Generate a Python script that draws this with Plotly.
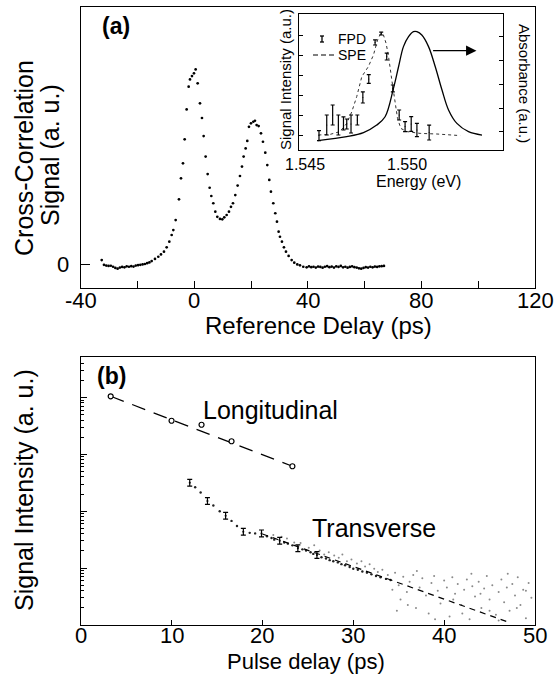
import plotly.graph_objects as go

# ---------------- Panel (a): cross-correlation ----------------
delay_ps = [-32.6,-31.8,-31.0,-30.2,-29.4,-28.6,-27.8,-27.0,-26.2,-25.4,-24.6,-23.8,-23.0,-22.2,-21.4,-20.6,-19.8,-19.0,-18.2,-17.4,-16.6,-15.8,
            -15.0,-13.84,-12.67,-11.73,-10.67,-9.73,-8.79,-7.97,-7.38,-6.56,-5.39,-4.68,-3.98,-3.39,-2.69,-1.98,-1.51,-0.81,-0.11,0.48,
            1.19,2.01,2.71,3.30,4.0,4.71,5.41,6.0,6.70,7.41,8.11,9.05,9.87,10.57,11.4,12.22,12.92,13.63,14.45,15.27,16.09,16.8,17.38,18.09,
            18.67,19.26,19.96,20.79,21.37,21.96,22.67,23.49,24.19,25.01,25.72,26.42,27.0,27.83,28.53,29.12,29.71,30.18,30.88,31.58,32.29,
            33.23,34.29,35.22,36.28,37.22,38.39,39.57,
            40.4,41.2,42.0,42.8,43.6,44.4,45.2,46.0,46.8,47.6,48.4,49.2,50.0,50.8,51.6,52.4,53.2,54.0,54.8,55.6,56.4,57.2,58.0,58.8,59.6,
            60.4,61.2,62.0,62.8,63.6,64.4,65.2,66.0,66.8]
xcorr_signal = [0.020,-0.004,-0.008,-0.010,-0.009,-0.014,-0.020,-0.024,-0.018,-0.015,-0.017,-0.012,-0.014,-0.011,-0.013,-0.008,-0.006,-0.004,-0.002,0.000,0.004,0.008,
                0.015,0.026,0.037,0.049,0.063,0.085,0.114,0.148,0.173,0.224,0.33,0.437,0.514,0.636,0.789,0.905,0.942,0.959,0.973,0.993,
                0.922,0.82,0.745,0.653,0.548,0.459,0.389,0.347,0.31,0.267,0.241,0.23,0.228,0.238,0.25,0.267,0.292,0.31,0.352,0.40,0.449,0.497,0.548,0.59,
                0.628,0.70,0.718,0.726,0.731,0.709,0.704,0.667,0.624,0.568,0.505,0.429,0.369,0.31,0.259,0.216,0.165,0.139,0.114,0.085,0.063,
                0.041,0.02,0.007,-0.002,-0.007,-0.014,-0.017,
                -0.012,-0.016,-0.014,-0.018,-0.013,-0.015,-0.019,-0.014,-0.011,-0.016,-0.013,-0.018,-0.012,-0.015,-0.010,-0.017,-0.014,-0.019,-0.015,
                -0.012,-0.016,-0.018,-0.022,-0.024,-0.020,-0.016,-0.018,-0.014,-0.017,-0.013,-0.015,-0.012,-0.011,-0.010]
a_xticks = [-40, 0, 40, 80, 120]
a_xticklabels = ["-40", "0", "40", "80", "120"]

# ---------------- Inset: spectra ----------------
abs_energy = [1.54562,1.54704,1.54786,1.54851,1.54892,1.54933,1.54958,1.54982,1.55007,1.55031,1.55048,1.55072,1.55105,1.55138,
              1.55171,1.55203,1.55244,1.55301,1.55367]
absorbance = [-0.38,-0.21,-0.04,0.28,0.63,1.83,2.74,3.59,4.01,4.22,4.22,4.08,3.59,2.74,1.76,0.92,0.35,0.0,-0.14]

spe_energy = [1.54565,1.54622,1.54671,1.54704,1.54729,1.54753,1.54778,1.54810,1.54835,1.54855,1.54871,1.54884,1.54897,1.54909,
              1.54925,1.54941,1.54953,1.54969,1.54999,1.55064,1.55146,1.55260]
spe_signal = [0.0,0.03,0.17,0.58,1.17,1.92,2.92,3.42,4.0,4.75,5.08,5.0,4.58,3.92,2.75,1.58,0.83,0.33,0.17,0.08,0.05,-0.03]

fpd_energy = [1.54568,1.54606,1.54635,1.54663,1.54688,1.54704,1.54725,1.54756,1.54783,1.54812,1.54843,1.54873,1.54900,1.54930,
              1.54961,1.54990,1.55020,1.55048,1.55108]
fpd_signal = [-0.03,0.5,1.0,0.5,0.58,0.55,0.55,0.75,1.88,2.8,4.63,5.07,3.92,2.33,1.0,0.42,0.55,0.25,0.12]
fpd_error = [0.25,0.5,0.5,0.5,0.33,0.25,0.45,0.25,0.28,0.22,0.13,0.07,0.17,0.17,0.25,0.25,0.37,0.33,0.37]
inset_xticks = [1.545, 1.550, 1.555]
inset_xticklabels = ["1.545", "1.550", "1.555"]

# ---------------- Panel (b): decay ----------------
long_delay = [3.3, 10.0, 13.3, 16.6, 23.3]
long_log = [4.02, 3.59, 3.52, 3.23, 2.79]
long_fit_delay = [3.3, 23.3]
long_fit_log = [4.02, 2.79]

trans_delay = [12.0, 13.95, 15.95, 17.9, 19.9, 21.9, 23.9, 26.0]
trans_log = [2.50, 2.18, 1.92, 1.64, 1.61, 1.48, 1.35, 1.23]
trans_err_log = 0.06

scan_delay = [12.6,13.2,14.6,15.3,16.6,17.2,18.6,19.2,20.5,21.0,21.3,22.4,22.8,23.3,24.4,24.8,25.3,25.6,26.5,27.0,27.4,27.8,
              28.3,28.7,29.1,29.6,30.0,30.5,31.0,31.5,32.0,32.5,33.0,33.6,34.1]
scan_log = [2.42,2.33,2.10,2.00,1.83,1.74,1.62,1.61,1.56,1.53,1.50,1.45,1.43,1.40,1.33,1.31,1.28,1.25,1.19,1.17,1.14,1.12,
            1.10,1.07,1.05,1.02,0.99,0.97,0.94,0.92,0.89,0.86,0.84,0.81,0.79]

noise_delay = [21.2,22.1,22.7,23.5,24.2,25.1,25.7,26.3,26.8,27.3,27.9,28.4,28.8,29.3,29.8,30.4,30.9,31.3,31.8,32.3,32.7,33.2,33.8,
               34.3,34.6,35.0,35.2,35.5,35.9,36.2,36.6,36.9,37.3,37.6,38.0,38.3,38.6,38.9,39.3,39.6,40.0,40.3,40.6,40.9,41.2,41.5,
               41.9,42.2,42.5,42.8,43.1,43.4,43.8,44.1,44.4,44.7,45.0,45.3,45.7,46.0,46.3,46.6,46.9,47.2,47.5,47.8,48.1,48.4,48.7,
               49.0,49.3,49.6,36.0,37.0,39.0,41.0,43.0,45.0,47.0,49.0,34.8,42.0,44.0,46.0,48.0]
noise_log = [1.58,1.55,1.52,1.45,1.44,1.36,1.40,1.31,1.24,1.28,1.22,1.18,1.24,1.12,1.15,1.08,1.12,1.03,1.07,0.99,0.93,0.97,0.88,
             0.62,0.92,0.70,0.45,0.85,0.58,0.76,0.88,0.30,0.66,0.82,0.52,0.20,0.74,0.86,0.60,0.38,0.78,0.66,0.15,0.84,0.55,0.72,
             0.35,0.62,0.80,0.10,0.68,0.50,0.76,0.30,0.64,0.86,0.45,0.70,0.18,0.58,0.80,0.40,0.66,0.25,0.72,0.52,0.84,0.35,0.62,
             0.12,0.74,0.48,0.35,0.95,0.10,0.45,0.90,0.25,0.90,0.60,0.25,0.20,0.55,0.08,0.30]

trans_fit_delay = [20.0, 46.9]
trans_fit_log = [1.60, 0.06]
b_xticks = [0, 10, 20, 30, 40, 50]
b_xticklabels = ["0", "10", "20", "30", "40", "50"]

# ---------------- helpers ----------------
W, H = 556, 676
def px(x):
    return x / W
def py(y):
    return 1 - y / H
def pw(v):
    return [10 ** t for t in v]

FONT = "Liberation Sans, Arial, Helvetica, sans-serif"
NARROW = "Liberation Sans Narrow, Liberation Sans, Arial, sans-serif"

fig = go.Figure()

# panel a
fig.add_trace(go.Scatter(x=delay_ps, y=xcorr_signal, mode="markers",
                         marker=dict(color="black", size=2.7), xaxis="x", yaxis="y", showlegend=False))

# inset
fig.add_trace(go.Scatter(x=spe_energy, y=spe_signal, mode="lines",
                         line=dict(color="#333", width=1, dash="dot"), xaxis="x3", yaxis="y3", showlegend=False))
fig.add_trace(go.Scatter(x=fpd_energy, y=fpd_signal, mode="markers",
                         marker=dict(color="black", size=1),
                         error_y=dict(type="data", array=fpd_error, color="black", thickness=1.2, width=2),
                         xaxis="x3", yaxis="y3", showlegend=False))
fig.add_trace(go.Scatter(x=abs_energy, y=absorbance, mode="lines", line_shape="spline",
                         line=dict(color="black", width=1.3), xaxis="x3", yaxis="y4", showlegend=False))

# panel b
fig.add_trace(go.Scatter(x=noise_delay, y=pw(noise_log), mode="markers",
                         marker=dict(color="#8a8a8a", size=2), xaxis="x2", yaxis="y2", showlegend=False))
fig.add_trace(go.Scatter(x=scan_delay, y=pw(scan_log), mode="markers",
                         marker=dict(color="#222", size=2.4), xaxis="x2", yaxis="y2", showlegend=False))
fig.add_trace(go.Scatter(x=trans_fit_delay, y=pw(trans_fit_log), mode="lines",
                         line=dict(color="black", width=1.2, dash="6px,5px"), xaxis="x2", yaxis="y2", showlegend=False))
tv = pw(trans_log)
fig.add_trace(go.Scatter(x=trans_delay, y=tv, mode="markers",
                         marker=dict(color="black", size=2),
                         error_y=dict(type="data", symmetric=False,
                                      array=[v * (10 ** trans_err_log - 1) for v in tv],
                                      arrayminus=[v * (1 - 10 ** -trans_err_log) for v in tv],
                                      color="black", thickness=1.2, width=2.5),
                         xaxis="x2", yaxis="y2", showlegend=False))
fig.add_trace(go.Scatter(x=long_fit_delay, y=pw(long_fit_log), mode="lines",
                         line=dict(color="black", width=1.2, dash="14px,9px"), xaxis="x2", yaxis="y2", showlegend=False))
fig.add_trace(go.Scatter(x=long_delay, y=pw(long_log), mode="markers",
                         marker=dict(color="white", size=5, symbol="circle",
                                     line=dict(color="black", width=1.2)),
                         xaxis="x2", yaxis="y2", showlegend=False))

axis_common = dict(showline=True, linecolor="black", linewidth=1.2, showgrid=False, zeroline=False,
                   ticks="inside", tickcolor="black", showticklabels=False, automargin=False)

minor_b = []
for d in range(0, 5):
    for m in range(2, 10):
        v = m * 10 ** d
        if v < 10 ** 4.716:
            minor_b.append(v)

fig.update_layout(
    width=W, height=H, margin=dict(l=0, r=0, t=0, b=0, pad=0, autoexpand=False),
    paper_bgcolor="white", plot_bgcolor="white",
    font=dict(family=FONT, color="black"),
    xaxis=dict(axis_common, domain=[px(80.7), px(535)], anchor="y", range=[-40, 120],
               tickmode="array", tickvals=a_xticks, ticklen=7, mirror=True,
               minor=dict(tickmode="array", tickvals=[-20, 20, 60, 100], ticks="inside", ticklen=7, tickcolor="black")),
    yaxis=dict(axis_common, domain=[py(288.3), py(7.3)], anchor="x", range=[-0.124, 1.31],
               tickmode="array", tickvals=[0], ticklen=9, mirror=True),
    xaxis2=dict(axis_common, domain=[px(80.7), px(535)], anchor="y2", range=[0, 50],
                tickmode="array", tickvals=b_xticks, ticklen=5, mirror=True),
    yaxis2=dict(axis_common, domain=[py(625), py(356.7)], anchor="x2", type="log", range=[0, 4.716],
                tickmode="array", tickvals=[1, 10, 100, 1000, 10000], ticklen=6, mirror=True,
                minor=dict(tickmode="array", tickvals=minor_b, ticks="inside", ticklen=3, tickcolor="black")),
    xaxis3=dict(showline=True, linecolor="black", linewidth=1.2, showgrid=False, zeroline=False, mirror=True,
                domain=[px(299), px(503)], anchor="y3", range=[1.5447, 1.5547],
                tickmode="array", tickvals=inset_xticks, ticks="", showticklabels=False),
    yaxis3=dict(showline=True, linecolor="black", linewidth=1.2, showgrid=False, zeroline=False,
                domain=[py(150), py(14)], anchor="x3", range=[-0.75, 6.05],
                tickmode="array", tickvals=[0, 1, 2, 3, 4, 5], ticks="inside", ticklen=4, tickcolor="black",
                showticklabels=False),
    yaxis4=dict(showline=True, linecolor="black", linewidth=1.2, showgrid=False, zeroline=False,
                overlaying="y3", side="right", anchor="x3", range=[-0.772, 4.966],
                tickmode="array", tickvals=[0, 1, 2, 3, 4], ticks="inside", ticklen=4, tickcolor="black",
                showticklabels=False),
)

ann = []
def text(x, y, s, size=24, angle=0, bold=False, family=FONT):
    ann.append(dict(xref="paper", yref="paper", x=px(x), y=py(y), text=("<b>%s</b>" % s) if bold else s,
                    showarrow=False, textangle=angle, xanchor="center", yanchor="middle",
                    font=dict(family=family, size=size, color="black")))

# tick labels, positioned at the axis values
for v, s in zip(a_xticks, a_xticklabels):
    ann.append(dict(xref="x", yref="paper", x=v, y=py(300), text=s, showarrow=False,
                    xanchor="center", yanchor="middle", font=dict(family=FONT, size=22, color="black")))
ann.append(dict(xref="paper", yref="y", x=px(71), y=0, text="0", showarrow=False,
                xanchor="right", yanchor="middle", font=dict(family=FONT, size=22, color="black")))
for v, s in zip(b_xticks, b_xticklabels):
    ann.append(dict(xref="x2", yref="paper", x=v, y=py(635), text=s, showarrow=False,
                    xanchor="center", yanchor="middle", font=dict(family=FONT, size=22, color="black")))
for v, s in zip(inset_xticks, inset_xticklabels):
    ann.append(dict(xref="x3", yref="paper", x=v, y=py(165), text=s, showarrow=False,
                    xanchor="center", yanchor="middle", font=dict(family=NARROW, size=16, color="black")))

text(24, 158, "Cross-Correlation", 25, -90)
text(50, 155, "Signal (a. u.)", 25, -90)
text(318, 325, "Reference Delay (ps)", 24)
text(116, 26, "(a)", 23, bold=True)
text(24, 490, "Signal Intensity (a. u.)", 25, -90)
text(306, 661, "Pulse delay (ps)", 22)
text(111, 376, "(b)", 23, bold=True)
text(270, 410, "Longitudinal", 25)
text(374, 528, "Transverse", 25)
text(286, 80, "Signal Intensity (a.u.)", 15, -90)
text(525, 83, "Absorbance (a.u.)", 15, 90)
text(418, 181, "Energy (eV)", 16)
ann.append(dict(xref="paper", yref="paper", x=px(336), y=py(39), text="FPD", showarrow=False,
                xanchor="left", yanchor="middle", font=dict(family=FONT, size=14, color="black")))
ann.append(dict(xref="paper", yref="paper", x=px(336), y=py(55), text="SPE", showarrow=False,
                xanchor="left", yanchor="middle", font=dict(family=FONT, size=14, color="black")))
# arrow pointing to the absorbance axis
ann.append(dict(xref="x3", yref="y4", axref="x3", ayref="y4", x=1.5534, y=3.42, ax=1.5512, ay=3.42,
                text="", showarrow=True, arrowhead=2, arrowsize=1.6, arrowwidth=1.3, arrowcolor="black"))
fig.update_layout(annotations=ann)

shapes = [
    dict(type="line", xref="paper", yref="paper", x0=px(322), x1=px(322), y0=py(36), y1=py(42), line=dict(color="black", width=1.3)),
    dict(type="line", xref="paper", yref="paper", x0=px(320), x1=px(324), y0=py(36), y1=py(36), line=dict(color="black", width=1.3)),
    dict(type="line", xref="paper", yref="paper", x0=px(320), x1=px(324), y0=py(42), y1=py(42), line=dict(color="black", width=1.3)),
    dict(type="line", xref="paper", yref="paper", x0=px(313), x1=px(334), y0=py(55), y1=py(55), line=dict(color="black", width=1.2, dash="5px,3px")),
]
fig.update_layout(shapes=shapes)

fig.write_html("out.html", config={"displayModeBar": False},
               post_script="document.body.style.margin='0px';document.body.style.padding='0px';")
